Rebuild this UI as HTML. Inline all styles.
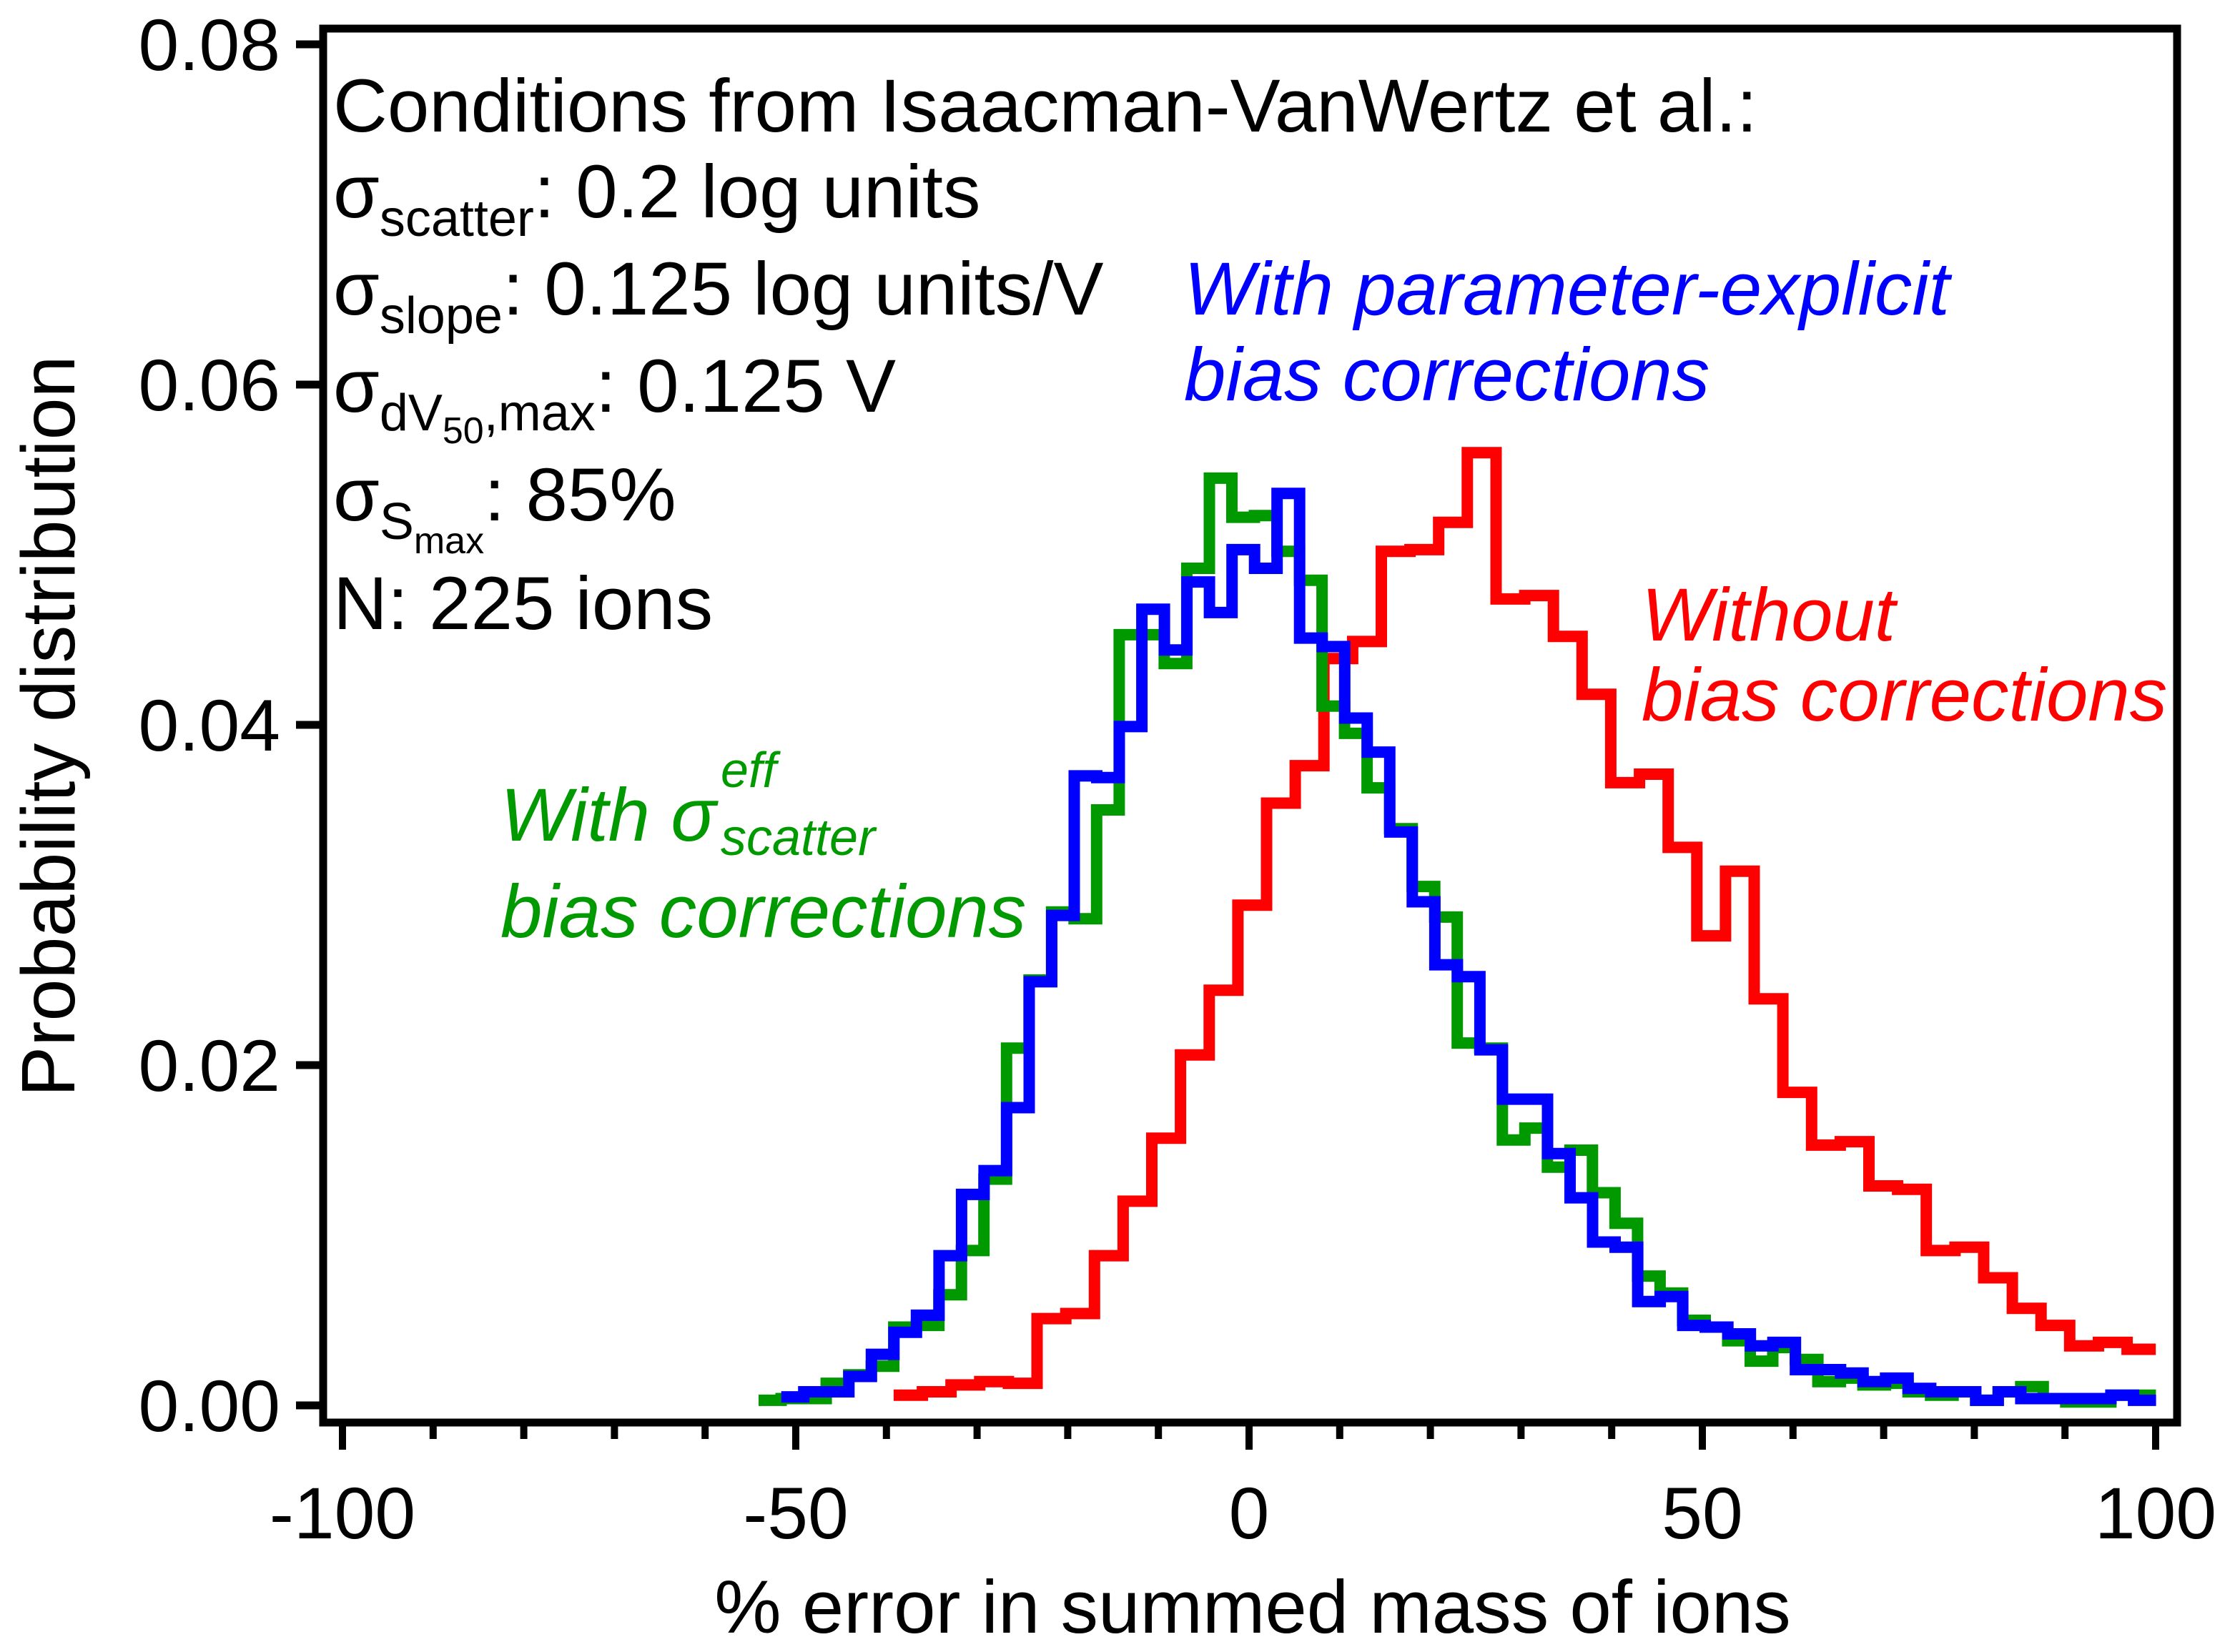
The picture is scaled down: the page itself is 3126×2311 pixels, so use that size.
<!DOCTYPE html>
<html><head><meta charset="utf-8">
<style>
html,body{margin:0;padding:0;background:#fff;}
svg{display:block;}
text{font-family:"Liberation Sans",Arial,sans-serif;}
</style></head>
<body>
<svg id="chart" width="3126" height="2311" viewBox="0 0 3126 2311" xmlns="http://www.w3.org/2000/svg">
<rect x="0" y="0" width="3126" height="2311" fill="#fff"/>
<g id="series"></g>
<g id="axes"></g>
<g font-size="105" fill="#000">
  <text x="466" y="184">Conditions from Isaacman-VanWertz et al.:</text>
  <text x="466" y="304">σ<tspan font-size="72" dy="26">scatter</tspan><tspan dy="-26">: 0.2 log units</tspan></text>
  <text x="466" y="440">σ<tspan font-size="72" dy="26">slope</tspan><tspan dy="-26">: 0.125 log units/V</tspan></text>
  <text x="466" y="576">σ<tspan font-size="72" dy="26">dV</tspan><tspan font-size="52" dy="18">50</tspan><tspan font-size="72" dy="-18">,max</tspan><tspan dy="-26">: 0.125 V</tspan></text>
  <text x="466" y="728">σ<tspan font-size="72" dy="26">S</tspan><tspan font-size="52" dy="20">max</tspan><tspan dy="-46">: 85%</tspan></text>
  <text x="466" y="880">N: 225 ions</text>
</g>
<g font-size="105" font-style="italic" fill="#0000ff">
  <text x="1656" y="440">With parameter-explicit</text>
  <text x="1656" y="560">bias corrections</text>
</g>
<g font-size="105" font-style="italic" fill="#ff0000">
  <text x="2296" y="896">Without</text>
  <text x="2296" y="1008">bias corrections</text>
</g>
<g font-size="105" font-style="italic" fill="#009900">
  <text x="700" y="1176">With σ</text>
  <text x="1008" y="1101" font-size="70">eff</text>
  <text x="1008" y="1196" font-size="72">scatter</text>
  <text x="700" y="1311">bias corrections</text>
</g>
<text x="1752" y="2284" font-size="105" text-anchor="middle">% error in summed mass of ions</text>
<text transform="translate(104,1016) rotate(-90)" font-size="106" text-anchor="middle">Probability distribution</text>
</svg>
<script>
// ---- data ----
const binWidthRed = 3.164;
const binWidthGB = 2.486;
const redStart = -39.2;
const greenStart = -54.1;
const blueStart = -51.6;
const redValues = [0.0006,0.0008,0.0012,0.0014,0.0013,0.0051,0.0054,0.0088,0.0120,0.0157,0.0206,0.0244,0.0294,0.0354,0.0376,0.0439,0.0449,0.0502,0.0503,0.0519,0.0560,0.0474,0.0476,0.0452,0.0418,0.0366,0.0371,0.0328,0.0276,0.0314,0.0239,0.0184,0.0153,0.0155,0.0129,0.0127,0.0091,0.0093,0.0075,0.0057,0.0047,0.0035,0.0037,0.0033];
const greenValues = [0.0003,0.0004,0.0004,0.0013,0.0018,0.0023,0.0046,0.0047,0.0065,0.0091,0.0133,0.0210,0.0250,0.0290,0.0286,0.0350,0.0453,0.0453,0.0436,0.0492,0.0545,0.0522,0.0523,0.0502,0.0485,0.0411,0.0395,0.0363,0.0339,0.0305,0.0287,0.0213,0.0210,0.0156,0.0163,0.0140,0.0150,0.0125,0.0107,0.0076,0.0066,0.0050,0.0046,0.0038,0.0026,0.0034,0.0027,0.0014,0.0016,0.0012,0.0013,0.0008,0.0006,0.0008,0.0003,0.0008,0.0011,0.0004,0.0002,0.0002,0.0006,0.0006];
const blueValues = [0.0005,0.0008,0.0008,0.0017,0.0030,0.0043,0.0053,0.0088,0.0124,0.0138,0.0175,0.0249,0.0288,0.0370,0.0369,0.0399,0.0468,0.0444,0.0484,0.0466,0.0503,0.0492,0.0536,0.0451,0.0446,0.0404,0.0384,0.0337,0.0296,0.0259,0.0252,0.0209,0.0180,0.0180,0.0148,0.0122,0.0096,0.0093,0.0061,0.0064,0.0047,0.0046,0.0042,0.0035,0.0037,0.0021,0.0021,0.0019,0.0014,0.0016,0.0010,0.0008,0.0008,0.0003,0.0008,0.0004,0.0004,0.0004,0.0004,0.0006,0.0003];
const xTickValues = [-100,-50,0,50,100];
const xTickLabels = ["-100","-50","0","50","100"];
const xMinorTicks = [-90,-80,-70,-60,-40,-30,-20,-10,10,20,30,40,60,70,80,90];
const yTickValues = [0,0.02,0.04,0.06,0.08];
const yTickLabels = ["0.00","0.02","0.04","0.06","0.08"];

// ---- scales ----
function X(v){ return 1747 + v*12.68; }
function Y(v){ return 1966 - v*23800; }
const NS = "http://www.w3.org/2000/svg";
const series = document.getElementById('series');
const axes = document.getElementById('axes');

function stepPath(start, w, vals){
  let d = "M" + X(start).toFixed(1) + " " + Y(vals[0]).toFixed(1);
  for (let i=0;i<vals.length;i++){
    if (i>0) d += " V" + Y(vals[i]).toFixed(1);
    d += " H" + X(start + (i+1)*w).toFixed(1);
  }
  return d;
}
function addSeries(start,w,vals,color,name){
  const p = document.createElementNS(NS,'path');
  p.setAttribute('d', stepPath(start,w,vals));
  p.setAttribute('fill','none');
  p.setAttribute('stroke',color);
  p.setAttribute('stroke-width','16');
  p.setAttribute('stroke-linejoin','miter');
  
  
  series.appendChild(p);
}
addSeries(redStart, binWidthRed, redValues, '#ff0000', 'red-histogram-without-corrections');
addSeries(greenStart, binWidthGB, greenValues, '#009900', 'green-histogram-scatter-corrections');
addSeries(blueStart, binWidthGB, blueValues, '#0000ff', 'blue-histogram-parameter-corrections');

function line(x1,y1,x2,y2,w){
  const l = document.createElementNS(NS,'line');
  l.setAttribute('x1',x1); l.setAttribute('y1',y1);
  l.setAttribute('x2',x2); l.setAttribute('y2',y2);
  l.setAttribute('stroke','#000'); l.setAttribute('stroke-width',w);
  axes.appendChild(l);
  return l;
}
// frame
const fr = document.createElementNS(NS,'rect');
fr.setAttribute('x',452); fr.setAttribute('y',40);
fr.setAttribute('width',2593); fr.setAttribute('height',1950);
fr.setAttribute('fill','none'); fr.setAttribute('stroke','#000'); fr.setAttribute('stroke-width','11');


axes.appendChild(fr);

xTickValues.forEach((v,i)=>{
  const t = line(X(v),1990,X(v),2028,10);
  
  
  const tx = document.createElementNS(NS,'text');
  tx.setAttribute('x',X(v)); tx.setAttribute('y',2152);
  tx.setAttribute('font-size','102'); tx.setAttribute('text-anchor','middle');
  tx.textContent = xTickLabels[i];
  
  
  axes.appendChild(tx);
});
xMinorTicks.forEach(v=>{
  const t = line(X(v),1990,X(v),2013,10);
  
  
});
yTickValues.forEach((v,i)=>{
  const t = line(414,Y(v),452,Y(v),11);
  
  
  const tx = document.createElementNS(NS,'text');
  tx.setAttribute('x',392); tx.setAttribute('y',Y(v)+36);
  tx.setAttribute('font-size','102'); tx.setAttribute('text-anchor','end');
  tx.textContent = yTickLabels[i];
  
  
  axes.appendChild(tx);
});
</script>
</body></html>
